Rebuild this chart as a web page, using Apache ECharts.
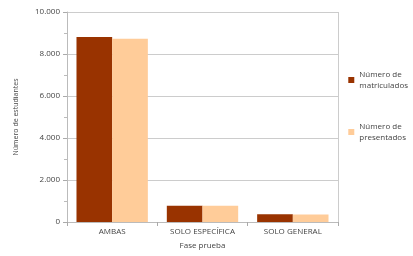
<!DOCTYPE html>
<html>
<head>
<meta charset="utf-8">
<script src="https://cdn.jsdelivr.net/npm/echarts@6/dist/echarts.min.js"></script>
<style>
  html, body { margin: 0; padding: 0; background: #fff; }
  #chart { width: 413px; height: 256px; }
</style>
</head>
<body>
<div id="chart"></div>
<script>
var categories = ['AMBAS', 'SOLO ESPECÍFICA', 'SOLO GENERAL'];
var matriculados = [8810, 775, 365];
var presentados = [8730, 770, 358];
var seriesNames = ['Número de\nmatriculados', 'Número de\npresentados'];

var chart = echarts.init(document.getElementById('chart'));
var option = {
  animation: false,
  color: ['#993300', '#ffcc99'],
  textStyle: { fontFamily: 'Open Sans' },
  grid: { left: 67, right: 75, top: 12, bottom: 34 },
  legend: {
    orient: 'vertical',
    right: 0,
    top: 64,
    itemWidth: 6,
    itemHeight: 6,
    itemGap: 30,
    icon: 'rect',
    data: seriesNames,
    textStyle: { color: '#444', fontSize: 8, lineHeight: 11 }
  },
  xAxis: {
    type: 'category',
    data: categories,
    name: 'Fase prueba',
    nameLocation: 'middle',
    nameGap: 20,
    nameTextStyle: { color: '#444', fontSize: 8 },
    axisLine: { lineStyle: { color: '#bbb' } },
    axisTick: { show: true, length: 4, lineStyle: { color: '#aaa' } },
    axisLabel: { color: '#444', fontSize: 8, margin: 6 }
  },
  yAxis: {
    type: 'value',
    min: 0,
    max: 10000,
    interval: 2000,
    name: 'Número de estudiantes',
    nameLocation: 'middle',
    nameGap: 48,
    nameTextStyle: { color: '#444', fontSize: 7 },
    axisLine: { show: true, lineStyle: { color: '#bbb' } },
    axisTick: { show: true, length: 4, lineStyle: { color: '#aaa' } },
    minorTick: { show: true, splitNumber: 2, length: 3, lineStyle: { color: '#bbb' } },
    splitLine: { lineStyle: { color: '#ccc' } },
    axisLabel: {
      color: '#444',
      fontSize: 8,
      margin: 7,
      formatter: function (v) {
        return v.toString().replace(/\B(?=(\d{3})+(?!\d))/g, '.');
      }
    }
  },
  series: [{
    name: seriesNames[0],
    type: 'bar',
    data: matriculados,
    barGap: '0%',
    barCategoryGap: '21%'
  }, {
    name: seriesNames[1],
    type: 'bar',
    data: presentados
  }, {
    // right-hand border of the plot
    type: 'line',
    data: [],
    markLine: {
      silent: true,
      symbol: 'none',
      label: { show: false },
      lineStyle: { color: '#ccc', type: 'solid', width: 1 },
      data: [[{ coord: [2, 0], x: 338 }, { coord: [2, 10000], x: 338 }]]
    }
  }]
};
chart.setOption(option);
</script>
</body>
</html>
